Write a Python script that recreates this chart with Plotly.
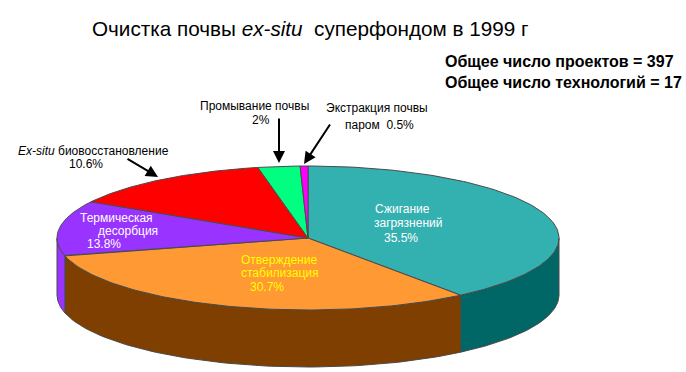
import numpy as np
import plotly.graph_objects as go

categories = ["Сжигание загрязнений", "Отверждение стабилизация", "Термическая десорбция",
              "Ex-situ биовосстановление", "Промывание почвы", "Экстракция почвы паром"]
# slice shares as drawn in the picture (percent of the circle)
drawn_share = [39.6, 31.4, 12.4, 13.4, 2.7, 0.5]
top_colors = ["#33B0B0", "#FF9933", "#9933FF", "#FF0000", "#00FF80", "#FF00FF"]
side_colors = ["#006666", "#7F3F00", "#9933FF", "#7F0000", "#008040", "#800080"]

title_text = "Очистка почвы <i>ex-situ</i>  суперфондом в 1999 г"
info_lines = ["Общее число проектов = 397", "Общее число технологий = 17"]
# text, x, y, colour
label_lines = [
    ("Сжигание", 375, 209, "white"), ("загрязнений", 374, 223, "white"), ("35.5%", 384, 238, "white"),
    ("Отверждение", 241, 260, "#FFFF00"), ("стабилизация", 241, 273, "#FFFF00"), ("30.7%", 250, 287, "#FFFF00"),
    ("Термическая", 80, 218, "white"), ("десорбция", 98, 231, "white"), ("13.8%", 87, 244, "white"),
    ("<i>Ex-situ</i> биовосстановление", 18, 151, "black"), ("10.6%", 69, 164, "black"),
    ("Промывание почвы", 200, 106, "black"), ("2%", 252, 120, "black"),
    ("Экстракция почвы", 326, 108, "black"), ("паром  0.5%", 345, 125, "black"),
]
arrows = [((126, 158), (158, 177)), ((279, 117), (279, 163)), ((331, 123), (304, 164))]

CX, CY, RX, RY, DEPTH = 308, 238, 251, 72, 57
EDGE = "#4a4a4a"


def ell(t, dy=0):
    r = np.radians(t)
    return CX + RX * np.sin(r), CY - RY * np.cos(r) + dy


fig = go.Figure()
bounds = np.concatenate([[0], np.cumsum(drawn_share)]) / sum(drawn_share) * 360

# walls (visible lower half only)
for i, c in enumerate(side_colors):
    a, b = max(bounds[i], 90), min(bounds[i + 1], 270)
    if b <= a:
        continue
    t = np.linspace(a, b, 80)
    x, y = ell(t)
    x2, y2 = ell(t[::-1], DEPTH)
    fig.add_trace(go.Scatter(x=np.r_[x, x2, x[0]], y=np.r_[y, y2, y[0]], mode="lines", fill="toself",
                             fillcolor=c, line=dict(color=EDGE, width=1), hoverinfo="skip"))

# top faces
for i, c in enumerate(top_colors):
    t = np.linspace(bounds[i], bounds[i + 1], 120)
    x, y = ell(t)
    fig.add_trace(go.Scatter(x=np.r_[CX, x, CX], y=np.r_[CY, y, CY], mode="lines", fill="toself",
                             fillcolor=c, line=dict(color=EDGE, width=1), name=categories[i],
                             hoverinfo="name"))

anns = [dict(x=92, y=28, text=title_text, xanchor="left", yanchor="middle", showarrow=False, xshift=-2,
             font=dict(size=20.7, color="black"))]
for k, line in enumerate(info_lines):
    anns.append(dict(x=445, y=61 + 21 * k, text="<b>%s</b>" % line, xanchor="left", yanchor="middle",
                     showarrow=False, xshift=-2, font=dict(size=16, color="black")))
for text, x, y, col in label_lines:
    anns.append(dict(x=x, y=y, text=text, xanchor="left", yanchor="middle", showarrow=False, xshift=-1,
                     borderpad=0, font=dict(size=12, color=col)))
for (x0, y0), (x1, y1) in arrows:
    anns.append(dict(x=x1, y=y1, ax=x0, ay=y0, axref="x", ayref="y", text="", showarrow=True,
                     arrowhead=2, arrowsize=1.2, arrowwidth=2, arrowcolor="black"))

fig.update_layout(
    width=686, height=372, margin=dict(l=0, r=0, t=0, b=0), showlegend=False,
    paper_bgcolor="white", plot_bgcolor="white",
    font=dict(family="Liberation Sans, Arial, sans-serif"),
    xaxis=dict(range=[0, 686], visible=False, fixedrange=True),
    yaxis=dict(range=[372, 0], visible=False, fixedrange=True),
    annotations=anns,
)
fig.write_html("out.html", config=dict(displayModeBar=False),
               post_script="document.body.style.margin='0';document.documentElement.style.overflow='hidden';")
